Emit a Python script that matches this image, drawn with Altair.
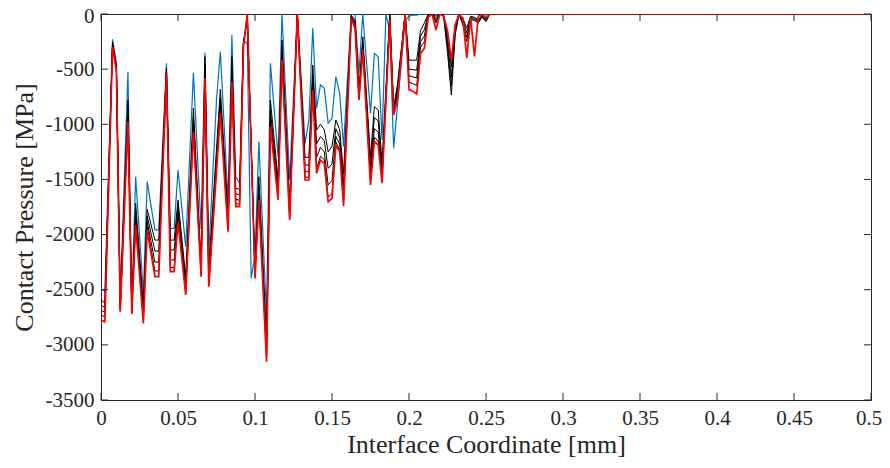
import altair as alt
import pandas as pd

x_mm = [0, 0.0025, 0.0075, 0.01, 0.0125, 0.0175, 0.02, 0.0225, 0.0275, 0.03,
        0.035, 0.0375, 0.0425, 0.045, 0.0475, 0.05, 0.055, 0.06, 0.065, 0.0675,
        0.07, 0.075, 0.0775, 0.0825, 0.085, 0.0875, 0.09, 0.0925, 0.095, 0.0975,
        0.1, 0.1025, 0.1075, 0.11, 0.115, 0.1175, 0.1225, 0.1275, 0.1325, 0.135,
        0.1375, 0.14, 0.1425, 0.145, 0.1475, 0.15, 0.1525, 0.155, 0.1575, 0.1625,
        0.165, 0.1675, 0.17, 0.175, 0.1775, 0.18, 0.1825, 0.185, 0.1875, 0.19,
        0.1925, 0.1975, 0.2, 0.2025, 0.205, 0.2075, 0.21, 0.2125, 0.215, 0.2175,
        0.22, 0.2225, 0.225, 0.2275, 0.23, 0.2325, 0.235, 0.2375, 0.24, 0.2425,
        0.245, 0.2475, 0.25, 0.2525, 0.5]

blue = [-2487, -2518, -230, -447, -2593, -523, -2620, -1475, -2533, -1520,
        -1958, -1958, -447, -1943, -1943, -1414, -2110, -532, -1950, -351,
        -2170, -780, -342, -1700, -190, -1475, -1535, -236, -270, -2397,
        -2185, -1158, -2745, -447, -1294, 0, -1505, 0, -1173, -961,
        -130, -855, -644, -674, -991, -946, -568, -719, -1200, 0,
        0, -538, 0, -900, -357, -387, -1140, 0, -150, -1218,
        None, -60, -20, -10, -10, 0, 0, 0, 0, 0,
        0, 0, 0, 0, 0, 0, 0, 0, 0, 0,
        0, 0, 0, 0, 0]

black1 = [-2593, -2620, -255, -470, -2625, -780, -2660, -1716, -2650, -1771,
          -2050, -2050, -490, -2050, -2050, -1686, -2380, -855, -2250, -387,
          -2300, None, -683, -1800, -387, -1580, -1590, -250, -60, None,
          -2300, -1475, -2950, -780, -1500, -236, -1700, 0, -1300, -1300,
          -462, -1052, -1000, -1050, -1250, -1200, -961, -1050, -1450, -10,
          -60, -700, -206, -1300, -840, -870, -1350, None, 0, -850,
          -640, 0, -417, -420, -417, -150, -80, 0, 0, -20,
          0, -10, -200, -480, -100, 0, -40, -130, -20, -30,
          -50, -10, -40, 0, 0]

black2 = [-2638, -2662, -265, -480, -2650, -840, -2680, -1770, -2700, -1830,
          -2150, -2150, -505, -2140, -2140, -1750, -2440, -930, -2300, -450,
          -2360, None, -760, -1870, -480, -1630, -1640, -265, -40, None,
          -2340, -1560, -3020, -870, -1570, -300, -1760, 0, -1370, -1370,
          -550, -1180, -1110, -1150, -1400, -1360, -1040, -1120, -1550, -20,
          -80, -730, -250, -1380, -940, -970, -1420, None, -10, -870,
          -670, 0, -500, -505, -510, -200, -140, 0, 0, -40,
          0, -15, -250, -570, -130, 0, -60, -170, -30, -40,
          -60, -20, -50, 0, 0]

black3 = [-2684, -2705, -275, -495, -2670, -900, -2700, -1830, -2750, -1880,
          -2250, -2250, -520, -2230, -2230, -1810, -2490, -1000, -2340, -510,
          -2420, None, -830, -1920, -550, -1680, -1690, -280, -20, None,
          -2370, -1620, -3080, -950, -1630, -360, -1810, 0, -1430, -1430,
          -620, -1300, -1210, -1250, -1550, -1510, -1110, -1180, -1650, -30,
          -100, -755, -290, -1450, -1040, -1070, -1480, None, -20, -890,
          -700, 0, -560, -570, -580, -250, -200, 0, 0, -60,
          0, -20, -300, -650, -160, 0, -80, -210, -40, -50,
          -70, -20, -60, 0, 0]

black4 = [-2729, -2748, -285, -505, -2690, -950, -2710, -1880, -2780, -1930,
          -2330, -2330, -530, -2300, -2300, -1860, -2530, -1050, -2370, -560,
          -2460, None, -880, -1950, -600, -1720, -1725, -290, -10, None,
          -2390, -1660, -3120, -1000, -1670, -400, -1850, 0, -1480, -1480,
          -670, -1400, -1290, -1320, -1660, -1630, -1160, -1230, -1710, -35,
          -120, -770, -315, -1520, -1120, -1150, -1520, None, -40, -905,
          -730, 0, -620, -630, -650, -300, -250, -10, 0, -80,
          0, -20, -350, -734, -190, 0, -100, -248, -50, -60,
          -80, -30, -70, 0, 0]

red = [-2775, -2790, -300, -515, -2700, -976, -2720, -1913, -2805, -1958,
       -2382, -2382, -538, -2336, -2336, -1883, -2548, -1067, -2382, -583,
       -2472, None, -900, -1974, -614, -1747, -1747, -296, 0, None,
       -2397, -1686, -3152, -1022, -1686, -417, -1868, 0, -1505, -1505,
       -689, -1445, -1324, -1354, -1702, -1671, -1190, -1249, -1740, -40,
       -130, -780, -326, -1550, -1158, -1188, -1535, None, -54, -916,
       -780, 0, -686, -700, -725, -357, -310, -30, 0, -145,
       0, -20, -150, -417, -100, 0, -40, -400, -30, -385,
       -20, 0, -40, 0, 0]

x_ticks = [0, 0.05, 0.1, 0.15, 0.2, 0.25, 0.3, 0.35, 0.4, 0.45, 0.5]
y_ticks = [-3500, -3000, -2500, -2000, -1500, -1000, -500, 0]

series = {"blue": blue, "k1": black1, "k2": black2, "k3": black3, "k4": black4, "red": red}
rows = []
for name, vals in series.items():
    for i, (xv, pv) in enumerate(zip(x_mm, vals)):
        if pv is not None:
            rows.append({"x": xv, "p": pv, "s": name, "o": i})
df = pd.DataFrame(rows)

W, H = 770, 386
FONT = "Liberation Serif"
TXT = "#262626"
xs = alt.Scale(domain=[0, 0.5], nice=False)
ys = alt.Scale(domain=[-3500, 0], nice=False)

x_axis = alt.Axis(
    title="Interface Coordinate [mm]", values=x_ticks,
    labelExpr="format(datum.value, '~g')", ticks=False, tickSize=0,
    domain=False, grid=False, labelPadding=7, titlePadding=3,
    labelFlush=False, labelOverlap=False,
    labelOffset={"condition": {"test": "datum.value == 0.5", "value": -2.5}, "value": 0},
    labelFont=FONT, titleFont=FONT, labelFontSize=21, titleFontSize=26,
    titleFontWeight="normal", labelColor=TXT, titleColor=TXT)
y_axis = alt.Axis(
    title="Contact Pressure [MPa]", values=y_ticks,
    labelExpr="datum.value == 0 ? '0' : '-' + format(abs(datum.value), 'd')",
    ticks=False, tickSize=0, domain=False, grid=False, labelPadding=7,
    titlePadding=8, labelFlush=False, labelOverlap=False,
    labelOffset={"condition": {"test": "datum.value == 0", "value": 2.5}, "value": 0},
    labelFont=FONT, titleFont=FONT, labelFontSize=21,
    titleFontSize=26, titleFontWeight="normal",
    labelColor=TXT, titleColor=TXT)


def line_layer(names, color, width):
    d = df[df["s"].isin(names)]
    return alt.Chart(d).mark_line(color=color, strokeWidth=width, clip=True).encode(
        x=alt.X("x:Q", scale=xs, axis=x_axis),
        y=alt.Y("p:Q", scale=ys, axis=y_axis),
        detail="s:N", order="o:Q")

blue_l = line_layer(["blue"], "#0072BD", 1.2)
black_l = line_layer(["k1", "k2", "k3", "k4"], "#000000", 1.0)
red_l = line_layer(["red"], "#FF0000", 1.7)

xt = pd.DataFrame({"x": x_ticks})
yt = pd.DataFrame({"p": y_ticks})
tick_style = dict(color=TXT, strokeWidth=1)
bx = alt.Chart(xt).mark_rule(**tick_style).encode(
    x=alt.X("x:Q", scale=xs, axis=x_axis), y=alt.value(H), y2=alt.value(H - 7))
tx = alt.Chart(xt).mark_rule(**tick_style).encode(
    x=alt.X("x:Q", scale=xs, axis=x_axis), y=alt.value(0), y2=alt.value(7))
ly = alt.Chart(yt).mark_rule(**tick_style).encode(
    y=alt.Y("p:Q", scale=ys, axis=y_axis), x=alt.value(0), x2=alt.value(7))
ry = alt.Chart(yt).mark_rule(**tick_style).encode(
    y=alt.Y("p:Q", scale=ys, axis=y_axis), x=alt.value(W), x2=alt.value(W - 7))

chart = alt.layer(blue_l, black_l, red_l, bx, tx, ly, ry).properties(
    width=W, height=H,
    autosize=alt.AutoSizeParams(type="none"),
    padding={"left": 93, "top": 6, "right": 11, "bottom": 58},
    background="white",
).configure_view(stroke=TXT, strokeWidth=1)

chart.save("out.html", embed_options={"renderer": "svg", "actions": False})
